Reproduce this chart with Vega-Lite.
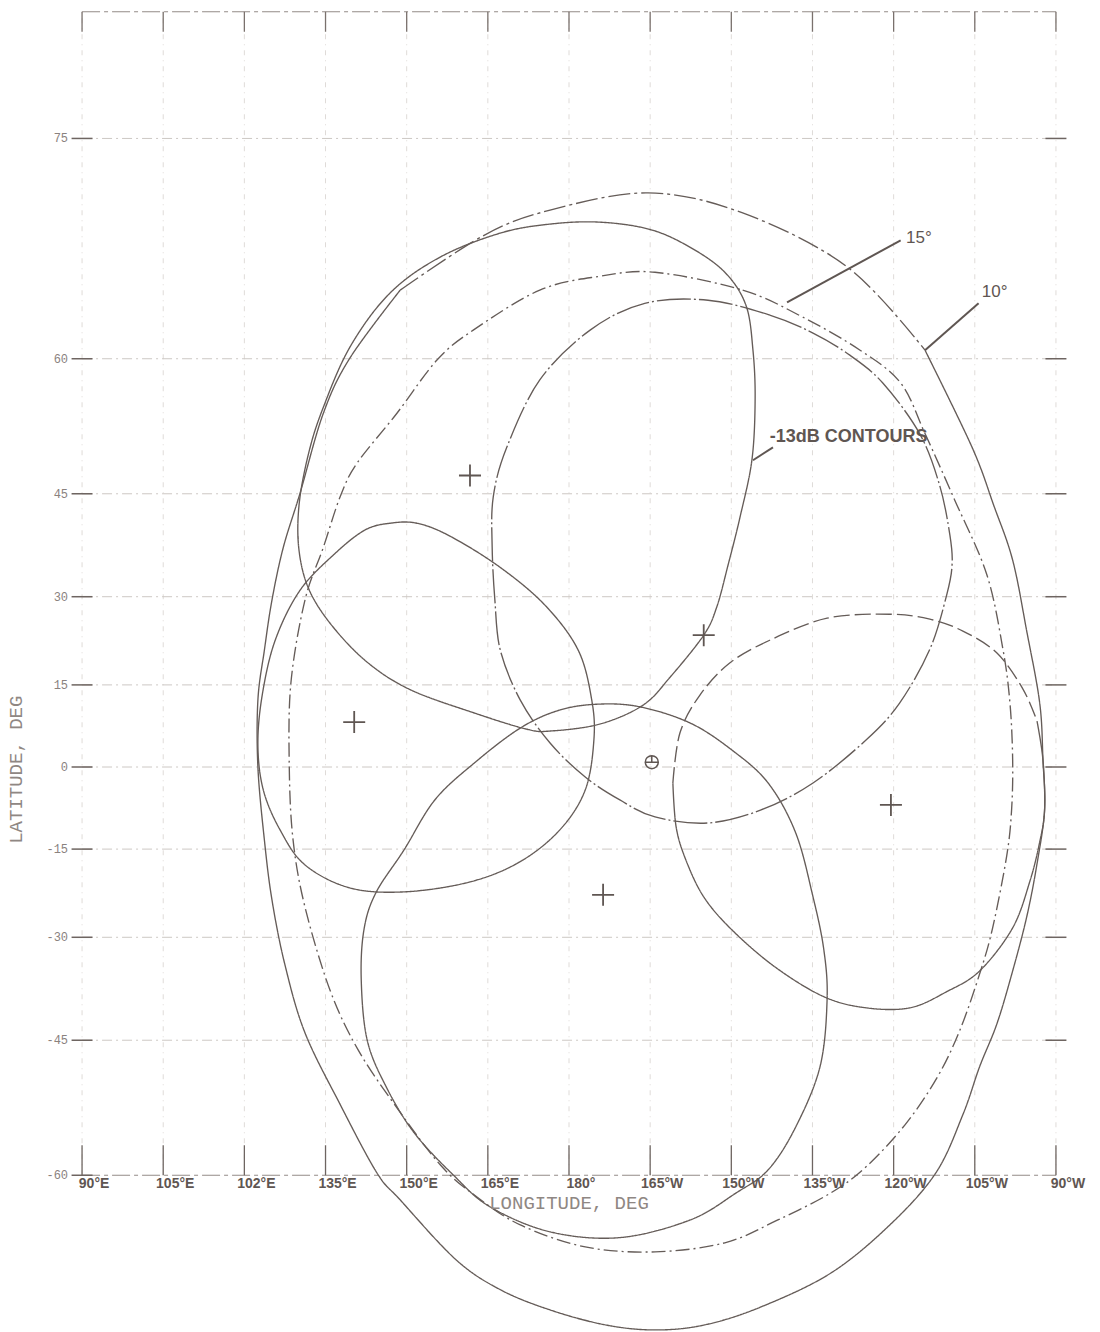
{
  "$schema": "https://vega.github.io/schema/vega-lite/v6.json",
  "width": 1100,
  "height": 1332,
  "autosize": "none",
  "padding": 0,
  "background": "#ffffff",
  "config": {"view": {"stroke": null}},
  "projection": {"type": "mercator", "scale": 310, "translate": [569, 767], "rotate": [180, 0, 0]},
  "datasets": {
    "meridians": [
      {"lon": 90, "south": -60, "north": 80}, {"lon": 105, "south": -60, "north": 80},
      {"lon": 120, "south": -60, "north": 80}, {"lon": 135, "south": -60, "north": 80},
      {"lon": 150, "south": -60, "north": 80}, {"lon": 165, "south": -60, "north": 80},
      {"lon": 180, "south": -60, "north": 80}, {"lon": 195, "south": -60, "north": 80},
      {"lon": 210, "south": -60, "north": 80}, {"lon": 225, "south": -60, "north": 80},
      {"lon": 240, "south": -60, "north": 80}, {"lon": 255, "south": -60, "north": 80},
      {"lon": 270, "south": -60, "north": 80}
    ],
    "parallels": [
      {"lat": -45, "west": 90, "east": 270}, {"lat": -30, "west": 90, "east": 270},
      {"lat": -15, "west": 90, "east": 270}, {"lat": 0, "west": 90, "east": 270},
      {"lat": 15, "west": 90, "east": 270}, {"lat": 30, "west": 90, "east": 270},
      {"lat": 45, "west": 90, "east": 270}, {"lat": 60, "west": 90, "east": 270},
      {"lat": 75, "west": 90, "east": 270}
    ],
    "frame": [
      {"lat": -60, "west": 90, "east": 270},
      {"lat": 80, "west": 90, "east": 270}
    ],
    "side_ticks": [
      {"lon": 90, "lat": -60}, {"lon": 90, "lat": -45}, {"lon": 90, "lat": -30}, {"lon": 90, "lat": -15},
      {"lon": 90, "lat": 0}, {"lon": 90, "lat": 15}, {"lon": 90, "lat": 30}, {"lon": 90, "lat": 45},
      {"lon": 90, "lat": 60}, {"lon": 90, "lat": 75},
      {"lon": 270, "lat": -45}, {"lon": 270, "lat": -30}, {"lon": 270, "lat": -15},
      {"lon": 270, "lat": 0}, {"lon": 270, "lat": 15}, {"lon": 270, "lat": 30}, {"lon": 270, "lat": 45},
      {"lon": 270, "lat": 60}, {"lon": 270, "lat": 75}
    ],
    "top_ticks": [
      {"lon": 90, "lat": 80}, {"lon": 105, "lat": 80}, {"lon": 120, "lat": 80}, {"lon": 135, "lat": 80},
      {"lon": 150, "lat": 80}, {"lon": 165, "lat": 80}, {"lon": 180, "lat": 80}, {"lon": 195, "lat": 80},
      {"lon": 210, "lat": 80}, {"lon": 225, "lat": 80}, {"lon": 240, "lat": 80}, {"lon": 255, "lat": 80},
      {"lon": 270, "lat": 80}
    ],
    "bottom_ticks": [
      {"lon": 90, "lat": -60}, {"lon": 105, "lat": -60}, {"lon": 120, "lat": -60}, {"lon": 135, "lat": -60},
      {"lon": 150, "lat": -60}, {"lon": 165, "lat": -60}, {"lon": 180, "lat": -60}, {"lon": 195, "lat": -60},
      {"lon": 210, "lat": -60}, {"lon": 225, "lat": -60}, {"lon": 240, "lat": -60}, {"lon": 255, "lat": -60},
      {"lon": 270, "lat": -60}
    ],
    "contours": [
      {"curve": "elev10_top", "i": 1, "lon": 148.8, "lat": 65.76},
      {"curve": "elev10_top", "i": 2, "lon": 164.3, "lat": 69.6},
      {"curve": "elev10_top", "i": 3, "lon": 176.5, "lat": 71.16},
      {"curve": "elev10_top", "i": 4, "lon": 194.6, "lat": 72.16},
      {"curve": "elev10_top", "i": 5, "lon": 212.1, "lat": 70.99},
      {"curve": "elev10_top", "i": 6, "lon": 231.5, "lat": 67.44},
      {"curve": "elev10_top", "i": 7, "lon": 245.8, "lat": 60.78},

      {"curve": "elev10_side", "i": 4, "lon": 245.8, "lat": 60.78},
      {"curve": "elev10_side", "i": 5, "lon": 254.5, "lat": 50.75},
      {"curve": "elev10_side", "i": 6, "lon": 258.5, "lat": 43.47},
      {"curve": "elev10_side", "i": 7, "lon": 262.0, "lat": 35.67},
      {"curve": "elev10_side", "i": 8, "lon": 264.6, "lat": 24.35},
      {"curve": "elev10_side", "i": 9, "lon": 267.0, "lat": 11.73},
      {"curve": "elev10_side", "i": 10, "lon": 267.6, "lat": 1.29},
      {"curve": "elev10_side", "i": 11, "lon": 267.9, "lat": -7.91},
      {"curve": "elev10_side", "i": 12, "lon": 266.5, "lat": -17.62},
      {"curve": "elev10_side", "i": 13, "lon": 264.6, "lat": -26.67},
      {"curve": "elev10_side", "i": 14, "lon": 262.0, "lat": -35.23},
      {"curve": "elev10_side", "i": 15, "lon": 259.1, "lat": -42.79},
      {"curve": "elev10_side", "i": 16, "lon": 255.9, "lat": -48.34},
      {"curve": "elev10_side", "i": 17, "lon": 252.8, "lat": -53.9},
      {"curve": "elev10_side", "i": 18, "lon": 247.8, "lat": -59.78},
      {"curve": "elev10_side", "i": 19, "lon": 239.3, "lat": -64.28},
      {"curve": "elev10_side", "i": 20, "lon": 228.4, "lat": -67.88},
      {"curve": "elev10_side", "i": 21, "lon": 215.5, "lat": -70.12},
      {"curve": "elev10_side", "i": 22, "lon": 205.1, "lat": -71.22},
      {"curve": "elev10_side", "i": 23, "lon": 195.9, "lat": -71.52},
      {"curve": "elev10_side", "i": 24, "lon": 186.7, "lat": -71.22},
      {"curve": "elev10_side", "i": 25, "lon": 176.5, "lat": -70.31},
      {"curve": "elev10_side", "i": 26, "lon": 167.3, "lat": -69.01},
      {"curve": "elev10_side", "i": 27, "lon": 159.1, "lat": -66.93},
      {"curve": "elev10_side", "i": 28, "lon": 148.8, "lat": -62.2},
      {"curve": "elev10_side", "i": 29, "lon": 144.5, "lat": -59.78},
      {"curve": "elev10_side", "i": 30, "lon": 137.7, "lat": -52.78},
      {"curve": "elev10_side", "i": 31, "lon": 131.2, "lat": -44.02},
      {"curve": "elev10_side", "i": 32, "lon": 127.5, "lat": -34.31},
      {"curve": "elev10_side", "i": 33, "lon": 125.1, "lat": -23.84},
      {"curve": "elev10_side", "i": 34, "lon": 123.7, "lat": -13.36},
      {"curve": "elev10_side", "i": 35, "lon": 122.5, "lat": 0},
      {"curve": "elev10_side", "i": 36, "lon": 122.5, "lat": 12.27},
      {"curve": "elev10_side", "i": 37, "lon": 123.7, "lat": 21.11},
      {"curve": "elev10_side", "i": 38, "lon": 125.1, "lat": 29.46},
      {"curve": "elev10_side", "i": 39, "lon": 127.2, "lat": 37.58},
      {"curve": "elev10_side", "i": 40, "lon": 130.3, "lat": 45.1},
      {"curve": "elev10_side", "i": 41, "lon": 134.6, "lat": 54.57},
      {"curve": "elev10_side", "i": 42, "lon": 139.5, "lat": 60.06},
      {"curve": "elev10_side", "i": 43, "lon": 148.8, "lat": 65.76},

      {"curve": "elev15", "i": 1, "lon": 195.9, "lat": 67.08},
      {"curve": "elev15", "i": 2, "lon": 212.1, "lat": 65.76},
      {"curve": "elev15", "i": 3, "lon": 223.2, "lat": 63.63},
      {"curve": "elev15", "i": 4, "lon": 233.8, "lat": 60.78},
      {"curve": "elev15", "i": 5, "lon": 241.3, "lat": 57.68},
      {"curve": "elev15", "i": 6, "lon": 245.8, "lat": 52.33},
      {"curve": "elev15", "i": 7, "lon": 251.3, "lat": 44.16},
      {"curve": "elev15", "i": 8, "lon": 257.2, "lat": 33.54},
      {"curve": "elev15", "i": 9, "lon": 260.2, "lat": 21.28},
      {"curve": "elev15", "i": 10, "lon": 261.5, "lat": 11.73},
      {"curve": "elev15", "i": 11, "lon": 262.0, "lat": 1.29},
      {"curve": "elev15", "i": 12, "lon": 261.8, "lat": -7.91},
      {"curve": "elev15", "i": 13, "lon": 260.9, "lat": -16.21},
      {"curve": "elev15", "i": 14, "lon": 258.3, "lat": -28.48},
      {"curve": "elev15", "i": 15, "lon": 255.9, "lat": -35.67},
      {"curve": "elev15", "i": 16, "lon": 252.2, "lat": -43.75},
      {"curve": "elev15", "i": 17, "lon": 248.0, "lat": -49.71},
      {"curve": "elev15", "i": 18, "lon": 242.1, "lat": -55.0},
      {"curve": "elev15", "i": 19, "lon": 234.9, "lat": -59.21},
      {"curve": "elev15", "i": 20, "lon": 228.4, "lat": -61.59},
      {"curve": "elev15", "i": 21, "lon": 218.6, "lat": -63.88},
      {"curve": "elev15", "i": 22, "lon": 208.8, "lat": -65.68},
      {"curve": "elev15", "i": 23, "lon": 195.9, "lat": -66.36},
      {"curve": "elev15", "i": 24, "lon": 183.0, "lat": -65.99},
      {"curve": "elev15", "i": 25, "lon": 171.0, "lat": -64.28},
      {"curve": "elev15", "i": 26, "lon": 162.5, "lat": -61.77},
      {"curve": "elev15", "i": 27, "lon": 156.2, "lat": -59.02},
      {"curve": "elev15", "i": 28, "lon": 148.0, "lat": -53.0},
      {"curve": "elev15", "i": 29, "lon": 141.0, "lat": -46.22},
      {"curve": "elev15", "i": 30, "lon": 135.8, "lat": -38.02},
      {"curve": "elev15", "i": 31, "lon": 131.2, "lat": -25.03},
      {"curve": "elev15", "i": 32, "lon": 129.0, "lat": -13.36},
      {"curve": "elev15", "i": 33, "lon": 128.3, "lat": 0},
      {"curve": "elev15", "i": 34, "lon": 128.6, "lat": 15.34},
      {"curve": "elev15", "i": 35, "lon": 131.2, "lat": 29.46},
      {"curve": "elev15", "i": 36, "lon": 134.6, "lat": 37.58},
      {"curve": "elev15", "i": 37, "lon": 137.7, "lat": 44.6},
      {"curve": "elev15", "i": 38, "lon": 140.8, "lat": 48.84},
      {"curve": "elev15", "i": 39, "lon": 148.2, "lat": 54.57},
      {"curve": "elev15", "i": 40, "lon": 155.6, "lat": 59.88},
      {"curve": "elev15", "i": 41, "lon": 162.3, "lat": 62.54},
      {"curve": "elev15", "i": 42, "lon": 174.6, "lat": 65.76},
      {"curve": "elev15", "i": 43, "lon": 185.7, "lat": 66.79},

      {"curve": "beamN", "i": 1, "lon": 185.7, "lat": 70.43},
      {"curve": "beamN", "i": 2, "lon": 195.0, "lat": 69.97},
      {"curve": "beamN", "i": 3, "lon": 202.4, "lat": 68.81},
      {"curve": "beamN", "i": 4, "lon": 208.8, "lat": 67.08},
      {"curve": "beamN", "i": 5, "lon": 212.7, "lat": 64.59},
      {"curve": "beamN", "i": 6, "lon": 214.0, "lat": 60.78},
      {"curve": "beamN", "i": 7, "lon": 214.4, "lat": 55.96},
      {"curve": "beamN", "i": 8, "lon": 213.8, "lat": 49.21},
      {"curve": "beamN", "i": 9, "lon": 211.6, "lat": 41.84},
      {"curve": "beamN", "i": 10, "lon": 209.4, "lat": 34.94},
      {"curve": "beamN", "i": 11, "lon": 207.3, "lat": 28.31},
      {"curve": "beamN", "i": 12, "lon": 204.9, "lat": 23.67},
      {"curve": "beamN", "i": 13, "lon": 198.7, "lat": 16.39},
      {"curve": "beamN", "i": 14, "lon": 193.7, "lat": 11.37},
      {"curve": "beamN", "i": 15, "lon": 185.7, "lat": 7.91},
      {"curve": "beamN", "i": 16, "lon": 176.5, "lat": 6.63},
      {"curve": "beamN", "i": 17, "lon": 172.1, "lat": 7.0},
      {"curve": "beamN", "i": 18, "lon": 162.5, "lat": 9.93},
      {"curve": "beamN", "i": 19, "lon": 150.8, "lat": 14.08},
      {"curve": "beamN", "i": 20, "lon": 142.9, "lat": 18.86},
      {"curve": "beamN", "i": 21, "lon": 136.4, "lat": 25.03},
      {"curve": "beamN", "i": 22, "lon": 132.0, "lat": 31.04},
      {"curve": "beamN", "i": 23, "lon": 130.1, "lat": 37.14},
      {"curve": "beamN", "i": 24, "lon": 130.1, "lat": 43.47},
      {"curve": "beamN", "i": 25, "lon": 131.8, "lat": 49.85},
      {"curve": "beamN", "i": 26, "lon": 134.4, "lat": 54.91},
      {"curve": "beamN", "i": 27, "lon": 139.5, "lat": 61.05},
      {"curve": "beamN", "i": 28, "lon": 146.9, "lat": 65.53},
      {"curve": "beamN", "i": 29, "lon": 156.2, "lat": 68.15},
      {"curve": "beamN", "i": 30, "lon": 167.3, "lat": 69.74},
      {"curve": "beamN", "i": 31, "lon": 176.5, "lat": 70.31},

      {"curve": "beamNE", "i": 1, "lon": 205.7, "lat": 64.98},
      {"curve": "beamNE", "i": 2, "lon": 217.1, "lat": 63.8},
      {"curve": "beamNE", "i": 3, "lon": 225.1, "lat": 62.29},
      {"curve": "beamNE", "i": 4, "lon": 231.9, "lat": 60.33},
      {"curve": "beamNE", "i": 5, "lon": 238.0, "lat": 57.68},
      {"curve": "beamNE", "i": 6, "lon": 244.8, "lat": 52.33},
      {"curve": "beamNE", "i": 7, "lon": 248.5, "lat": 46.1},
      {"curve": "beamNE", "i": 8, "lon": 250.4, "lat": 39.34},
      {"curve": "beamNE", "i": 9, "lon": 250.8, "lat": 34.94},
      {"curve": "beamNE", "i": 10, "lon": 249.8, "lat": 30.26},
      {"curve": "beamNE", "i": 11, "lon": 246.7, "lat": 21.28},
      {"curve": "beamNE", "i": 12, "lon": 241.1, "lat": 11.73},
      {"curve": "beamNE", "i": 13, "lon": 234.9, "lat": 4.98},
      {"curve": "beamNE", "i": 14, "lon": 225.1, "lat": -2.95},
      {"curve": "beamNE", "i": 15, "lon": 215.5, "lat": -7.91},
      {"curve": "beamNE", "i": 16, "lon": 205.7, "lat": -10.29},
      {"curve": "beamNE", "i": 17, "lon": 195.9, "lat": -9.19},
      {"curve": "beamNE", "i": 18, "lon": 189.4, "lat": -6.08},
      {"curve": "beamNE", "i": 19, "lon": 183.0, "lat": -1.85},
      {"curve": "beamNE", "i": 20, "lon": 176.5, "lat": 4.43},
      {"curve": "beamNE", "i": 21, "lon": 171.0, "lat": 12.27},
      {"curve": "beamNE", "i": 22, "lon": 167.3, "lat": 21.11},
      {"curve": "beamNE", "i": 23, "lon": 166.3, "lat": 29.46},
      {"curve": "beamNE", "i": 24, "lon": 165.8, "lat": 37.58},
      {"curve": "beamNE", "i": 25, "lon": 166.0, "lat": 44.6},
      {"curve": "beamNE", "i": 26, "lon": 168.5, "lat": 50.75},
      {"curve": "beamNE", "i": 27, "lon": 174.6, "lat": 57.98},
      {"curve": "beamNE", "i": 28, "lon": 183.9, "lat": 62.54},
      {"curve": "beamNE", "i": 29, "lon": 194.0, "lat": 64.74},

      {"curve": "beamW", "i": 1, "lon": 146.9, "lat": 41.02},
      {"curve": "beamW", "i": 2, "lon": 151.9, "lat": 41.02},
      {"curve": "beamW", "i": 3, "lon": 158.0, "lat": 39.2},
      {"curve": "beamW", "i": 4, "lon": 167.25, "lat": 34.6},
      {"curve": "beamW", "i": 5, "lon": 175.6, "lat": 28.6},
      {"curve": "beamW", "i": 6, "lon": 181.7, "lat": 21.1},
      {"curve": "beamW", "i": 7, "lon": 184.2, "lat": 12.3},
      {"curve": "beamW", "i": 8, "lon": 184.6, "lat": 4.98},
      {"curve": "beamW", "i": 9, "lon": 183.0, "lat": -4.24},
      {"curve": "beamW", "i": 10, "lon": 178.3, "lat": -11.55},
      {"curve": "beamW", "i": 11, "lon": 170.9, "lat": -17.27},
      {"curve": "beamW", "i": 12, "lon": 161.7, "lat": -20.77},
      {"curve": "beamW", "i": 13, "lon": 149.7, "lat": -22.47},
      {"curve": "beamW", "i": 14, "lon": 139.5, "lat": -21.8},
      {"curve": "beamW", "i": 15, "lon": 131.2, "lat": -17.8},
      {"curve": "beamW", "i": 16, "lon": 126.6, "lat": -11.55},
      {"curve": "beamW", "i": 17, "lon": 123.5, "lat": -4.24},
      {"curve": "beamW", "i": 18, "lon": 122.5, "lat": 4.06},
      {"curve": "beamW", "i": 19, "lon": 123.3, "lat": 13.18},
      {"curve": "beamW", "i": 20, "lon": 125.7, "lat": 22.8},
      {"curve": "beamW", "i": 21, "lon": 130.3, "lat": 31.04},
      {"curve": "beamW", "i": 22, "lon": 136.8, "lat": 36.7},
      {"curve": "beamW", "i": 23, "lon": 142.3, "lat": 40.07},

      {"curve": "beamS", "i": 1, "lon": 185.7, "lat": 11.55},
      {"curve": "beamS", "i": 2, "lon": 193.3, "lat": 11.01},
      {"curve": "beamS", "i": 3, "lon": 202.4, "lat": 8.1},
      {"curve": "beamS", "i": 4, "lon": 210.1, "lat": 3.14},
      {"curve": "beamS", "i": 5, "lon": 216.8, "lat": -2.95},
      {"curve": "beamS", "i": 6, "lon": 221.9, "lat": -12.09},
      {"curve": "beamS", "i": 7, "lon": 225.1, "lat": -23.33},
      {"curve": "beamS", "i": 8, "lon": 227.1, "lat": -31.98},
      {"curve": "beamS", "i": 9, "lon": 227.7, "lat": -39.49},
      {"curve": "beamS", "i": 10, "lon": 226.4, "lat": -48.34},
      {"curve": "beamS", "i": 11, "lon": 221.9, "lat": -55.23},
      {"curve": "beamS", "i": 12, "lon": 216.8, "lat": -59.5},
      {"curve": "beamS", "i": 13, "lon": 210.9, "lat": -61.59},
      {"curve": "beamS", "i": 14, "lon": 202.4, "lat": -63.88},
      {"curve": "beamS", "i": 15, "lon": 189.4, "lat": -65.28},
      {"curve": "beamS", "i": 16, "lon": 176.5, "lat": -64.83},
      {"curve": "beamS", "i": 17, "lon": 165.4, "lat": -62.79},
      {"curve": "beamS", "i": 18, "lon": 158.6, "lat": -59.97},
      {"curve": "beamS", "i": 19, "lon": 151.4, "lat": -55.85},
      {"curve": "beamS", "i": 20, "lon": 146.2, "lat": -50.75},
      {"curve": "beamS", "i": 21, "lon": 142.7, "lat": -44.98},
      {"curve": "beamS", "i": 22, "lon": 141.6, "lat": -36.55},
      {"curve": "beamS", "i": 23, "lon": 142.1, "lat": -28.8},
      {"curve": "beamS", "i": 24, "lon": 144.3, "lat": -22.65},
      {"curve": "beamS", "i": 25, "lon": 149.5, "lat": -15.16},
      {"curve": "beamS", "i": 26, "lon": 155.2, "lat": -6.08},
      {"curve": "beamS", "i": 27, "lon": 162.5, "lat": 0.74},
      {"curve": "beamS", "i": 28, "lon": 171.0, "lat": 7.18},
      {"curve": "beamS", "i": 29, "lon": 178.3, "lat": 10.47},

      {"curve": "beamE_top", "i": 1, "lon": 199.2, "lat": -2.95},
      {"curve": "beamE_top", "i": 2, "lon": 200.5, "lat": 6.26},
      {"curve": "beamE_top", "i": 3, "lon": 204.2, "lat": 13.18},
      {"curve": "beamE_top", "i": 4, "lon": 209.7, "lat": 18.86},
      {"curve": "beamE_top", "i": 5, "lon": 217.1, "lat": 22.8},
      {"curve": "beamE_top", "i": 6, "lon": 227.7, "lat": 26.51},
      {"curve": "beamE_top", "i": 7, "lon": 239.3, "lat": 27.16},
      {"curve": "beamE_top", "i": 8, "lon": 246.7, "lat": 26.34},
      {"curve": "beamE_top", "i": 9, "lon": 252.8, "lat": 24.35},
      {"curve": "beamE_top", "i": 10, "lon": 259.1, "lat": 20.6},
      {"curve": "beamE_top", "i": 11, "lon": 263.9, "lat": 14.26},
      {"curve": "beamE_top", "i": 12, "lon": 266.5, "lat": 8.46},

      {"curve": "beamE_side", "i": 1, "lon": 266.5, "lat": 8.46},
      {"curve": "beamE_side", "i": 2, "lon": 267.6, "lat": 1.29},
      {"curve": "beamE_side", "i": 3, "lon": 267.9, "lat": -7.91},
      {"curve": "beamE_side", "i": 4, "lon": 267.0, "lat": -13.72},
      {"curve": "beamE_side", "i": 5, "lon": 265.2, "lat": -20.6},
      {"curve": "beamE_side", "i": 6, "lon": 262.0, "lat": -28.48},
      {"curve": "beamE_side", "i": 7, "lon": 255.9, "lat": -35.23},
      {"curve": "beamE_side", "i": 8, "lon": 249.8, "lat": -38.31},
      {"curve": "beamE_side", "i": 9, "lon": 243.0, "lat": -40.61},
      {"curve": "beamE_side", "i": 10, "lon": 234.9, "lat": -40.61},
      {"curve": "beamE_side", "i": 11, "lon": 227.1, "lat": -39.03},
      {"curve": "beamE_side", "i": 12, "lon": 218.1, "lat": -34.65},
      {"curve": "beamE_side", "i": 13, "lon": 210.1, "lat": -28.8},
      {"curve": "beamE_side", "i": 14, "lon": 204.9, "lat": -23.33},
      {"curve": "beamE_side", "i": 15, "lon": 201.6, "lat": -16.92},
      {"curve": "beamE_side", "i": 16, "lon": 199.8, "lat": -11.01},
      {"curve": "beamE_side", "i": 17, "lon": 199.2, "lat": -2.95}
    ],
    "beam_centres": [
      {"lon": 161.7, "lat": 47.34},
      {"lon": 204.9, "lat": 23.67},
      {"lon": 140.3, "lat": 8.28},
      {"lon": 186.3, "lat": -22.99},
      {"lon": 239.5, "lat": -7.0}
    ],
    "subsatellite": [{"lon": 195.3, "lat": 0.9}],
    "leaders": [
      {"lon": 220.3, "lat": 64.82, "lon_end": 241.3, "lat_end": 69.27},
      {"lon": 245.8, "lat": 60.78, "lon_end": 255.7, "lat_end": 64.75},
      {"lon": 214.0, "lat": 49.21, "lon_end": 217.7, "lat_end": 50.75}
    ],
    "lon_labels": [
      {"lon": 90, "lat": -60, "text": "90°E"}, {"lon": 105, "lat": -60, "text": "105°E"},
      {"lon": 120, "lat": -60, "text": "102°E"}, {"lon": 135, "lat": -60, "text": "135°E"},
      {"lon": 150, "lat": -60, "text": "150°E"}, {"lon": 165, "lat": -60, "text": "165°E"},
      {"lon": 180, "lat": -60, "text": "180°"}, {"lon": 195, "lat": -60, "text": "165°W"},
      {"lon": 210, "lat": -60, "text": "150°W"}, {"lon": 225, "lat": -60, "text": "135°W"},
      {"lon": 240, "lat": -60, "text": "120°W"}, {"lon": 255, "lat": -60, "text": "105°W"},
      {"lon": 270, "lat": -60, "text": "90°W"}
    ],
    "lat_labels": [
      {"lon": 90, "lat": 75, "text": "75"}, {"lon": 90, "lat": 60, "text": "60"},
      {"lon": 90, "lat": 45, "text": "45"}, {"lon": 90, "lat": 30, "text": "30"},
      {"lon": 90, "lat": 15, "text": "15"}, {"lon": 90, "lat": 0, "text": "0"},
      {"lon": 90, "lat": -15, "text": "-15"}, {"lon": 90, "lat": -30, "text": "-30"},
      {"lon": 90, "lat": -45, "text": "-45"}, {"lon": 90, "lat": -60, "text": "-60"}
    ],
    "lat_title": [{"lon": 77.7, "lat": -0.5, "text": "LATITUDE, DEG"}],
    "lon_title": [{"lon": 180, "lat": -62.45, "text": "LONGITUDE, DEG"}],
    "elevation_notes": [
      {"lon": 242.3, "lat": 69.41, "text": "15°"},
      {"lon": 256.3, "lat": 65.6, "text": "10°"}
    ],
    "contour_note": [{"lon": 217.1, "lat": 51.99, "text": "-13dB CONTOURS"}]
  },
  "layer": [
    {
      "data": {"name": "meridians"},
      "mark": {"type": "rule", "color": "#dfdbd8", "strokeWidth": 1, "strokeDash": [5, 5, 1, 5]},
      "encoding": {
        "longitude": {"field": "lon", "type": "quantitative"},
        "latitude": {"field": "south", "type": "quantitative"},
        "longitude2": {"field": "lon"},
        "latitude2": {"field": "north"}
      }
    },
    {
      "data": {"name": "parallels"},
      "mark": {"type": "rule", "color": "#cdc8c4", "strokeWidth": 1, "strokeDash": [10, 4, 2, 4]},
      "encoding": {
        "longitude": {"field": "west", "type": "quantitative"},
        "latitude": {"field": "lat", "type": "quantitative"},
        "longitude2": {"field": "east"},
        "latitude2": {"field": "lat"}
      }
    },
    {
      "data": {"name": "frame"},
      "mark": {"type": "rule", "color": "#948c88", "strokeWidth": 1.2, "strokeDash": [18, 4, 4, 4]},
      "encoding": {
        "longitude": {"field": "west", "type": "quantitative"},
        "latitude": {"field": "lat", "type": "quantitative"},
        "longitude2": {"field": "east"},
        "latitude2": {"field": "lat"}
      }
    },
    {
      "data": {"name": "side_ticks"},
      "mark": {"type": "point", "shape": "M-1,0H1", "size": 440, "filled": false, "stroke": "#6e6561", "strokeWidth": 1.5, "opacity": 1},
      "encoding": {
        "longitude": {"field": "lon", "type": "quantitative"},
        "latitude": {"field": "lat", "type": "quantitative"}
      }
    },
    {
      "data": {"name": "top_ticks"},
      "mark": {"type": "point", "shape": "M0,0V1", "size": 1600, "filled": false, "stroke": "#7a716d", "strokeWidth": 1.3, "opacity": 1},
      "encoding": {
        "longitude": {"field": "lon", "type": "quantitative"},
        "latitude": {"field": "lat", "type": "quantitative"}
      }
    },
    {
      "data": {"name": "bottom_ticks"},
      "mark": {"type": "point", "shape": "M0,0V-1", "size": 3600, "filled": false, "stroke": "#6e6561", "strokeWidth": 1.3, "opacity": 1},
      "encoding": {
        "longitude": {"field": "lon", "type": "quantitative"},
        "latitude": {"field": "lat", "type": "quantitative"}
      }
    },
    {
      "data": {"name": "contours"},
      "transform": [{"filter": {"field": "curve", "oneOf": ["elev15", "beamN", "beamNE", "beamW", "beamS"]}}],
      "mark": {"type": "line", "interpolate": "cardinal-closed", "color": "#655c58", "strokeWidth": 1.35},
      "encoding": {
        "longitude": {"field": "lon", "type": "quantitative"},
        "latitude": {"field": "lat", "type": "quantitative"},
        "order": {"field": "i", "type": "quantitative"},
        "detail": {"field": "curve", "type": "nominal"},
        "strokeDash": {
          "field": "curve",
          "type": "nominal",
          "scale": {
            "domain": ["elev10_top", "elev10_side", "elev15", "beamN", "beamNE", "beamW", "beamS", "beamE_top", "beamE_side"],
            "range": [[22, 4, 3, 4], [1, 0], [14, 4, 2, 4], [1, 0], [34, 3, 2, 3], [1, 0], [1, 0], [16, 5], [1, 0]]
          },
          "legend": null
        }
      }
    },
    {
      "data": {"name": "contours"},
      "transform": [{"filter": {"field": "curve", "oneOf": ["elev10_top", "elev10_side", "beamE_top", "beamE_side"]}}],
      "mark": {"type": "line", "interpolate": "cardinal", "color": "#655c58", "strokeWidth": 1.35},
      "encoding": {
        "longitude": {"field": "lon", "type": "quantitative"},
        "latitude": {"field": "lat", "type": "quantitative"},
        "order": {"field": "i", "type": "quantitative"},
        "detail": {"field": "curve", "type": "nominal"},
        "strokeDash": {
          "field": "curve",
          "type": "nominal",
          "scale": {
            "domain": ["elev10_top", "elev10_side", "elev15", "beamN", "beamNE", "beamW", "beamS", "beamE_top", "beamE_side"],
            "range": [[22, 4, 3, 4], [1, 0], [14, 4, 2, 4], [1, 0], [34, 3, 2, 3], [1, 0], [1, 0], [16, 5], [1, 0]]
          },
          "legend": null
        }
      }
    },
    {
      "data": {"name": "leaders"},
      "mark": {"type": "rule", "color": "#5f5652", "strokeWidth": 2},
      "encoding": {
        "longitude": {"field": "lon", "type": "quantitative"},
        "latitude": {"field": "lat", "type": "quantitative"},
        "longitude2": {"field": "lon_end"},
        "latitude2": {"field": "lat_end"}
      }
    },
    {
      "data": {"name": "beam_centres"},
      "mark": {"type": "point", "shape": "M-1,0H1M0,-1V1", "size": 484, "filled": false, "stroke": "#5f5652", "strokeWidth": 1.8, "opacity": 1},
      "encoding": {
        "longitude": {"field": "lon", "type": "quantitative"},
        "latitude": {"field": "lat", "type": "quantitative"}
      }
    },
    {
      "data": {"name": "subsatellite"},
      "mark": {"type": "point", "shape": "M-1,0A1,1 0 1,1 1,0A1,1 0 1,1 -1,0ZM-1,0H1M0,-1V0", "size": 169, "filled": false, "stroke": "#5f5652", "strokeWidth": 1.5, "opacity": 1},
      "encoding": {
        "longitude": {"field": "lon", "type": "quantitative"},
        "latitude": {"field": "lat", "type": "quantitative"}
      }
    },
    {
      "data": {"name": "lon_labels"},
      "mark": {"type": "text", "font": "Liberation Sans", "fontSize": 14, "fontWeight": "bold", "color": "#5f5652", "align": "center", "baseline": "middle", "dx": 12, "dy": 9},
      "encoding": {
        "longitude": {"field": "lon", "type": "quantitative"},
        "latitude": {"field": "lat", "type": "quantitative"},
        "text": {"field": "text"}
      }
    },
    {
      "data": {"name": "lat_labels"},
      "mark": {"type": "text", "font": "Liberation Mono", "fontSize": 12, "color": "#8a827e", "align": "right", "baseline": "middle", "dx": -14},
      "encoding": {
        "longitude": {"field": "lon", "type": "quantitative"},
        "latitude": {"field": "lat", "type": "quantitative"},
        "text": {"field": "text"}
      }
    },
    {
      "data": {"name": "lat_title"},
      "mark": {"type": "text", "font": "Liberation Mono", "fontSize": 19, "color": "#8f8783", "align": "center", "baseline": "middle", "angle": 270},
      "encoding": {
        "longitude": {"field": "lon", "type": "quantitative"},
        "latitude": {"field": "lat", "type": "quantitative"},
        "text": {"field": "text"}
      }
    },
    {
      "data": {"name": "lon_title"},
      "mark": {"type": "text", "font": "Liberation Mono", "fontSize": 19, "color": "#8f8783", "align": "center", "baseline": "middle"},
      "encoding": {
        "longitude": {"field": "lon", "type": "quantitative"},
        "latitude": {"field": "lat", "type": "quantitative"},
        "text": {"field": "text"}
      }
    },
    {
      "data": {"name": "elevation_notes"},
      "mark": {"type": "text", "font": "Liberation Sans", "fontSize": 17, "color": "#5f5652", "align": "left", "baseline": "middle"},
      "encoding": {
        "longitude": {"field": "lon", "type": "quantitative"},
        "latitude": {"field": "lat", "type": "quantitative"},
        "text": {"field": "text"}
      }
    },
    {
      "data": {"name": "contour_note"},
      "mark": {"type": "text", "font": "Liberation Sans", "fontSize": 18, "fontWeight": "bold", "color": "#5f5652", "align": "left", "baseline": "middle"},
      "encoding": {
        "longitude": {"field": "lon", "type": "quantitative"},
        "latitude": {"field": "lat", "type": "quantitative"},
        "text": {"field": "text"}
      }
    }
  ]
}
